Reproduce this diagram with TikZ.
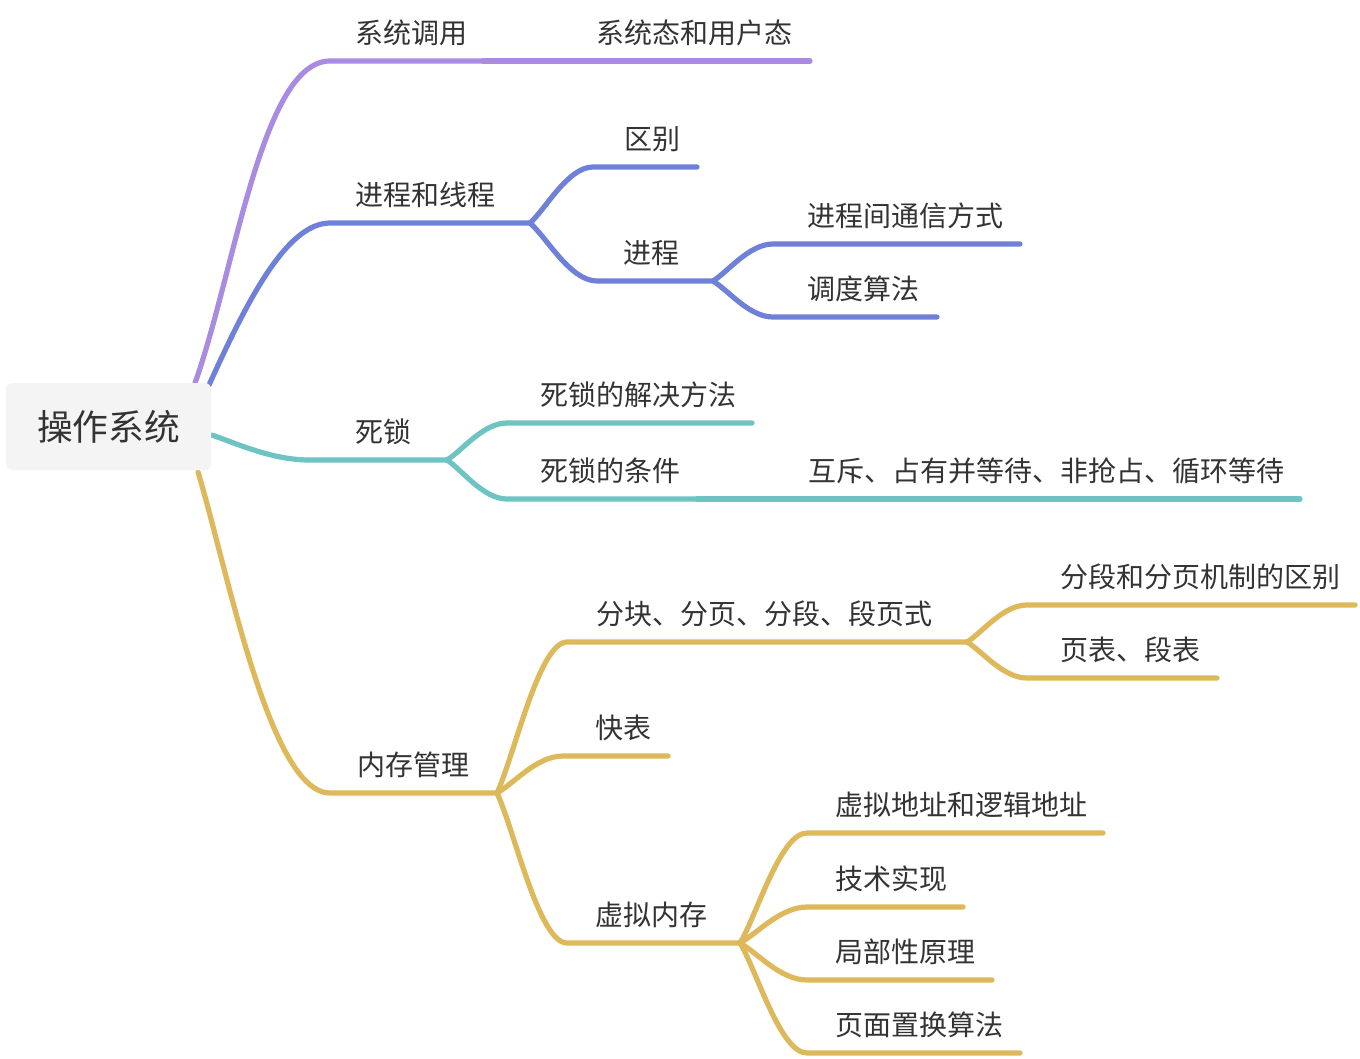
\documentclass[tikz,border=0pt]{standalone}
\usepackage{fontspec}
\newfontfamily\cjk{Noto Sans CJK SC}
\usetikzlibrary{calc}
\definecolor{cpur}{HTML}{A98CE2}
\definecolor{cblu}{HTML}{6F80D8}
\definecolor{ctea}{HTML}{6DC4C2}
\definecolor{cgol}{HTML}{DEB95C}
\definecolor{ctxt}{HTML}{333333}
\definecolor{cbox}{HTML}{F4F4F4}
\pgfdeclarelayer{bg}
\pgfsetlayers{bg,main}
% name, text x, line y, line start x, line end x, text
\newcommand\mmleaf[6]{%
  \coordinate (#1-s) at (#4,#3);
  \coordinate (#1-e) at (#5,#3);
  \node[lbl] (#1) at (#2,#3-28) {#6};}
% colour, parent end, child start, child end
\newcommand\mmkid[4]{%
  \draw[br,#1] let \p1=(#2), \p2=(#3) in (\p1) .. controls ({\x1+0.25*(\x2-\x1)},{\y1+0.25*(\y2-\y1)}) and ({\x1+0.6*(\x2-\x1)},\y2) .. (\p2) -- (#4);}
\begin{document}
\begin{tikzpicture}[x=0.75pt,y=-0.75pt,
  lbl/.style={anchor=west,inner sep=0pt,text=ctxt,font=\cjk\fontsize{21pt}{25pt}\selectfont},
  br/.style={line width=3.9pt,line cap=round,line join=round}]
\useasboundingbox (0,0) rectangle (1360,1058);

% root
\node[fill=cbox, rounded corners=4.5pt, minimum width=153.75pt, minimum height=65.25pt, inner sep=0pt,
      text=ctxt, font=\cjk\fontsize{26.8pt}{30pt}\selectfont] (root) at (108.5,426.5) {操作系统};
\coordinate (r-pur) at (195,383);
\coordinate (r-blu) at (209,385);
\coordinate (r-tea) at (212,435);
\coordinate (r-gol) at (198,472);

% level 1
\mmleaf{sys}{355}{61}{330}{483}{系统调用}
\mmleaf{proc}{355}{223}{330}{530}{进程和线程}
\mmleaf{dead}{355}{460}{310}{447}{死锁}
\mmleaf{mem}{357}{793}{330}{497}{内存管理}
% level 2+
\mmleaf{mode}{596}{61}{540}{810}{系统态和用户态}
\mmleaf{diff}{624}{167}{593}{697}{区别}
\mmleaf{pr}{623}{281}{597}{713}{进程}
\mmleaf{ipc}{807}{244}{773}{1020}{进程间通信方式}
\mmleaf{sched}{807}{317}{773}{937}{调度算法}
\mmleaf{solve}{540}{423}{507}{752}{死锁的解决方法}
\mmleaf{cond}{540}{499}{507}{697}{死锁的条件}
\mmleaf{four}{808}{499}{757}{1300}{互斥、占有并等待、非抢占、循环等待}
\mmleaf{seg}{596}{642}{567}{967}{分块、分页、分段、段页式}
\mmleaf{tlb}{595}{756}{563}{668}{快表}
\mmleaf{vm}{595}{943}{567}{740}{虚拟内存}
\mmleaf{segdiff}{1060}{605}{1027}{1355}{分段和分页机制的区别}
\mmleaf{table}{1060}{678}{1027}{1217}{页表、段表}
\mmleaf{addr}{835}{833}{807}{1103}{虚拟地址和逻辑地址}
\mmleaf{impl}{835}{907}{807}{963}{技术实现}
\mmleaf{local}{835}{980}{807}{992}{局部性原理}
\mmleaf{repl}{835}{1053}{807}{1020}{页面置换算法}

\begin{pgfonlayer}{bg}
\fill[white] (0,0) rectangle (1360,1058);
% root branches
\draw[br,cpur] (r-pur) .. controls (235,271) and (262,61) .. (sys-s) -- (sys-e);
\draw[br,cblu] (r-blu) .. controls (244,308) and (285,223) .. (proc-s) -- (proc-e);
\draw[br,ctea] (r-tea) .. controls (245,447) and (275,460) .. (dead-s) -- (dead-e);
\draw[br,cgol] (r-gol) .. controls (228,572) and (270,793) .. (mem-s) -- (mem-e);
% sub branches
\mmkid{cpur}{sys-e}{mode-s}{mode-e}
\mmkid{cblu}{proc-e}{diff-s}{diff-e}
\mmkid{cblu}{proc-e}{pr-s}{pr-e}
\mmkid{cblu}{pr-e}{ipc-s}{ipc-e}
\mmkid{cblu}{pr-e}{sched-s}{sched-e}
\mmkid{ctea}{dead-e}{solve-s}{solve-e}
\mmkid{ctea}{dead-e}{cond-s}{cond-e}
\mmkid{ctea}{cond-e}{four-s}{four-e}
\mmkid{cgol}{mem-e}{seg-s}{seg-e}
\mmkid{cgol}{mem-e}{tlb-s}{tlb-e}
\mmkid{cgol}{mem-e}{vm-s}{vm-e}
\mmkid{cgol}{seg-e}{segdiff-s}{segdiff-e}
\mmkid{cgol}{seg-e}{table-s}{table-e}
\mmkid{cgol}{vm-e}{addr-s}{addr-e}
\mmkid{cgol}{vm-e}{impl-s}{impl-e}
\mmkid{cgol}{vm-e}{local-s}{local-e}
\mmkid{cgol}{vm-e}{repl-s}{repl-e}
\end{pgfonlayer}
\end{tikzpicture}
\end{document}
